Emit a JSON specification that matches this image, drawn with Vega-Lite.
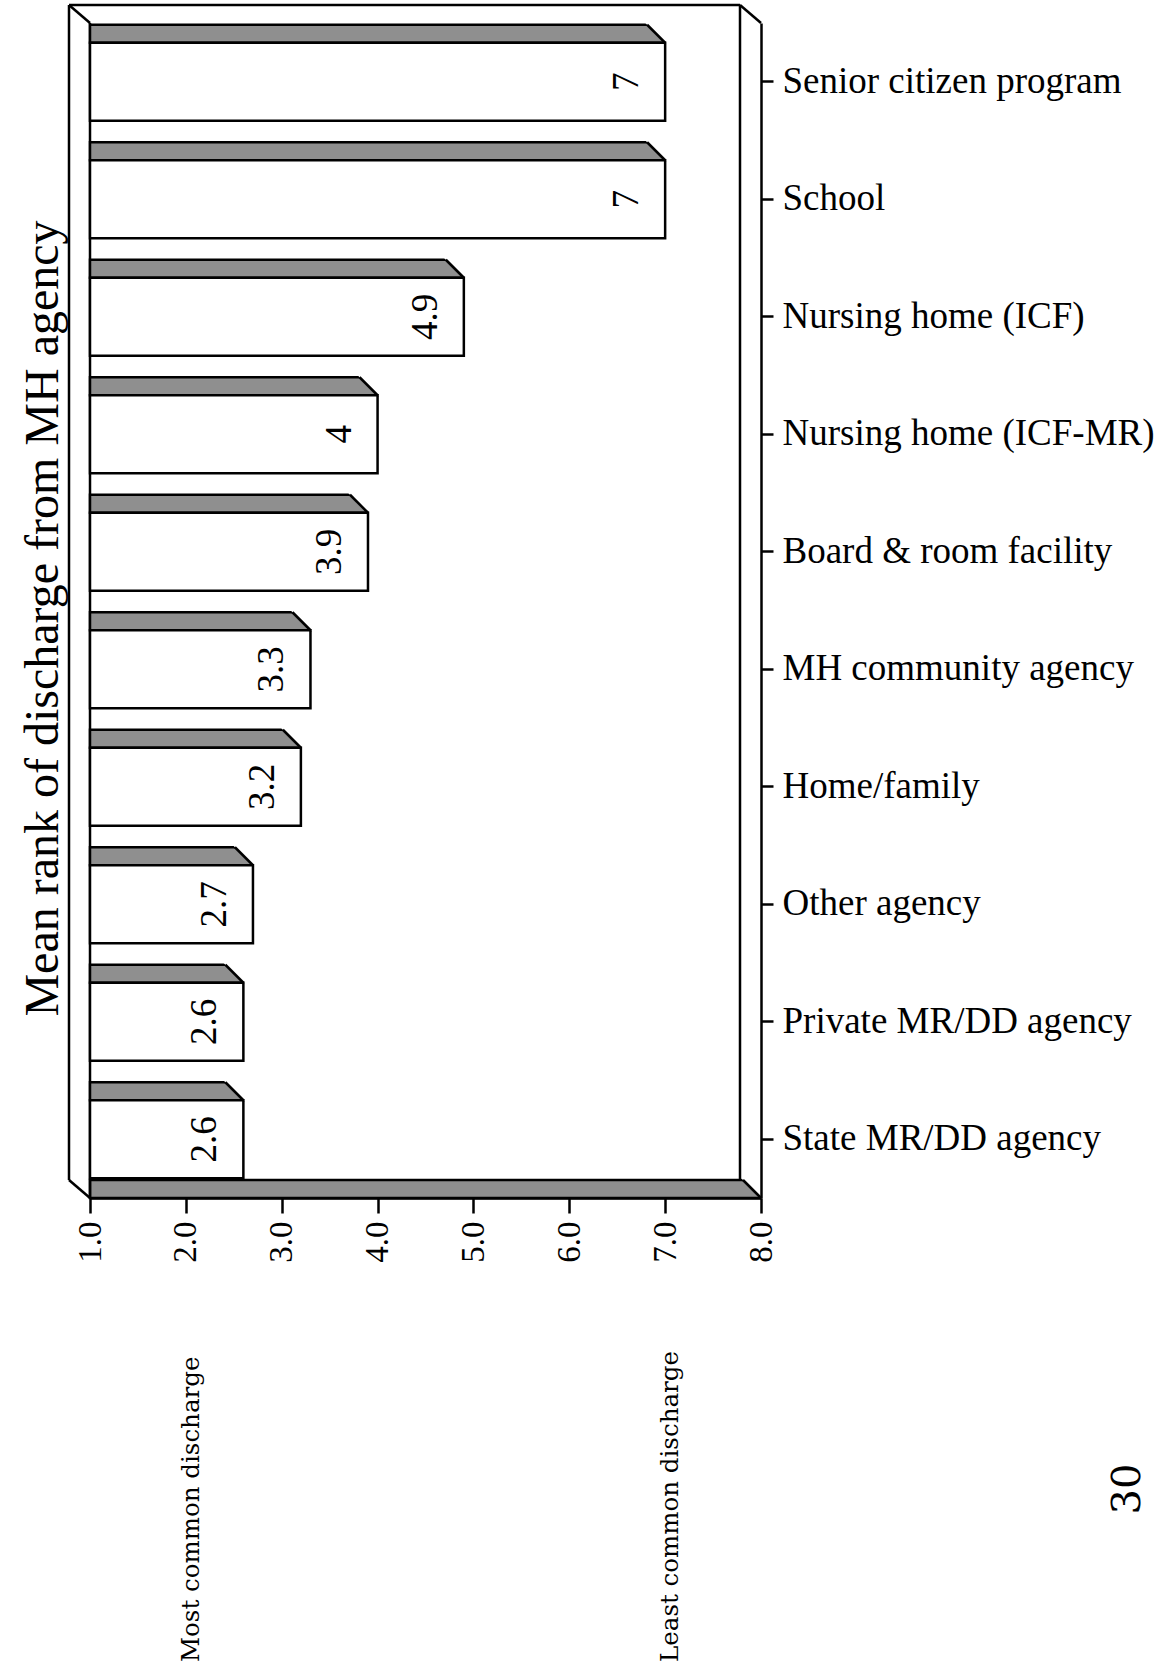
{
  "$schema": "https://vega.github.io/schema/vega-lite/v6.json",
  "background": "white",
  "padding": {"left": 19, "top": 3, "right": 5, "bottom": 5},
  "spacing": 3,
  "resolve": {"scale": {"x": "shared"}},
  "config": {
    "font": "Liberation Serif",
    "view": {"stroke": null},
    "title": {"color": "black", "fontWeight": "normal"}
  },
  "vconcat": [
    {
      "width": 671,
      "height": 1175,
      "title": {
        "text": "Mean rank of discharge from MH agency",
        "orient": "left",
        "anchor": "middle",
        "offset": 0,
        "dx": -8,
        "font": "Liberation Serif",
        "fontSize": 48,
        "fontWeight": "normal",
        "color": "black"
      },
      "data": {
        "values": [
          {"destination": "Senior citizen program", "rank": 7},
          {"destination": "School", "rank": 7},
          {"destination": "Nursing home (ICF)", "rank": 4.9},
          {"destination": "Nursing home (ICF-MR)", "rank": 4},
          {"destination": "Board & room facility", "rank": 3.9},
          {"destination": "MH community agency", "rank": 3.3},
          {"destination": "Home/family", "rank": 3.2},
          {"destination": "Other agency", "rank": 2.7},
          {"destination": "Private MR/DD agency", "rank": 2.6},
          {"destination": "State MR/DD agency", "rank": 2.6}
        ]
      },
      "layer": [
        {
          "description": "floor strip of the box",
          "data": {"values": [{}]},
          "mark": {"type": "bar", "height": 18, "yOffset": 49.75, "fill": "#8f8f8f", "stroke": "black", "strokeWidth": 2.5},
          "encoding": {
            "x": {"datum": 1, "type": "quantitative"},
            "x2": {"datum": 8},
            "y": {"datum": "State MR/DD agency", "type": "nominal"}
          }
        },
        {
          "data": {"values": [{}]},
          "mark": {"type": "point", "shape": "M-21,-21L3,-21L3,3Z", "size": 4, "filled": true, "fill": "white", "strokeWidth": 0, "opacity": 1, "yOffset": 58.75},
          "encoding": {
            "x": {"datum": 8, "type": "quantitative"},
            "y": {"datum": "State MR/DD agency", "type": "nominal"}
          }
        },
        {
          "data": {"values": [{}]},
          "mark": {"type": "point", "shape": "M0,0L-18,-18", "size": 4, "filled": false, "stroke": "black", "strokeWidth": 2.5, "opacity": 1, "yOffset": 58.75},
          "encoding": {
            "x": {"datum": 8, "type": "quantitative"},
            "y": {"datum": "State MR/DD agency", "type": "nominal"}
          }
        },
        {
          "description": "back wall: top edge",
          "data": {"values": [{}]},
          "mark": {"type": "rule", "color": "black", "strokeWidth": 2.5, "xOffset": -21, "x2Offset": -21, "yOffset": -76.75},
          "encoding": {
            "x": {"datum": 1, "type": "quantitative"},
            "x2": {"datum": 8},
            "y": {"datum": "Senior citizen program", "type": "nominal"}
          }
        },
        {
          "description": "back wall: left edge",
          "data": {"values": [{}]},
          "mark": {"type": "rule", "color": "black", "strokeWidth": 2.5, "xOffset": -21, "yOffset": -76.75, "y2Offset": 40.75},
          "encoding": {
            "x": {"datum": 1, "type": "quantitative"},
            "y": {"datum": "Senior citizen program", "type": "nominal"},
            "y2": {"datum": "State MR/DD agency"}
          }
        },
        {
          "description": "back wall: right edge",
          "data": {"values": [{}]},
          "mark": {"type": "rule", "color": "black", "strokeWidth": 2.5, "xOffset": -21, "yOffset": -76.75, "y2Offset": 40.75},
          "encoding": {
            "x": {"datum": 8, "type": "quantitative"},
            "y": {"datum": "Senior citizen program", "type": "nominal"},
            "y2": {"datum": "State MR/DD agency"}
          }
        },
        {
          "description": "corner edge, top left",
          "data": {"values": [{}]},
          "mark": {"type": "rule", "color": "black", "strokeWidth": 2.5, "xOffset": -21, "yOffset": -76.75, "y2Offset": -58.75},
          "encoding": {
            "x": {"datum": 1, "type": "quantitative"},
            "x2": {"datum": 1},
            "y": {"datum": "Senior citizen program", "type": "nominal"},
            "y2": {"datum": "Senior citizen program"}
          }
        },
        {
          "description": "corner edge, top right",
          "data": {"values": [{}]},
          "mark": {"type": "rule", "color": "black", "strokeWidth": 2.5, "xOffset": -21, "yOffset": -76.75, "y2Offset": -58.75},
          "encoding": {
            "x": {"datum": 8, "type": "quantitative"},
            "x2": {"datum": 8},
            "y": {"datum": "Senior citizen program", "type": "nominal"},
            "y2": {"datum": "Senior citizen program"}
          }
        },
        {
          "description": "corner edge, bottom left",
          "data": {"values": [{}]},
          "mark": {"type": "rule", "color": "black", "strokeWidth": 2.5, "xOffset": -21, "yOffset": 40.75, "y2Offset": 58.75},
          "encoding": {
            "x": {"datum": 1, "type": "quantitative"},
            "x2": {"datum": 1},
            "y": {"datum": "State MR/DD agency", "type": "nominal"},
            "y2": {"datum": "State MR/DD agency"}
          }
        },
        {
          "description": "front left edge",
          "data": {"values": [{}]},
          "mark": {"type": "rule", "color": "black", "strokeWidth": 2.5, "yOffset": -58.75, "y2Offset": 58.75},
          "encoding": {
            "x": {"datum": 1, "type": "quantitative"},
            "y": {"datum": "Senior citizen program", "type": "nominal"},
            "y2": {"datum": "State MR/DD agency"}
          }
        },
        {
          "description": "bar tops (depth face)",
          "mark": {"type": "bar", "height": 18, "yOffset": -48, "fill": "#8f8f8f", "stroke": "black", "strokeWidth": 2.5},
          "encoding": {
            "y": {"field": "destination", "type": "nominal", "sort": null},
            "x": {"field": "rank", "type": "quantitative", "scale": {"domain": [1, 8], "nice": false, "zero": false}},
            "x2": {"datum": 1}
          }
        },
        {
          "mark": {"type": "point", "shape": "M-21,-21L3,-21L3,3Z", "size": 4, "filled": true, "fill": "white", "strokeWidth": 0, "opacity": 1, "yOffset": -39},
          "encoding": {
            "y": {"field": "destination", "type": "nominal", "sort": null},
            "x": {"field": "rank", "type": "quantitative"}
          }
        },
        {
          "mark": {"type": "point", "shape": "M0,0L-18,-18", "size": 4, "filled": false, "stroke": "black", "strokeWidth": 2.5, "opacity": 1, "yOffset": -39},
          "encoding": {
            "y": {"field": "destination", "type": "nominal", "sort": null},
            "x": {"field": "rank", "type": "quantitative"}
          }
        },
        {
          "description": "bar fronts",
          "mark": {"type": "bar", "height": 78, "fill": "white", "stroke": "black", "strokeWidth": 2.5},
          "encoding": {
            "y": {
              "field": "destination",
              "type": "nominal",
              "sort": null,
              "scale": {
                "domain": [
                  "Senior citizen program", "School", "Nursing home (ICF)", "Nursing home (ICF-MR)",
                  "Board & room facility", "MH community agency", "Home/family", "Other agency",
                  "Private MR/DD agency", "State MR/DD agency"
                ],
                "paddingInner": 0,
                "paddingOuter": 0
              },
              "axis": {
                "orient": "right",
                "title": null,
                "zindex": 1,
                "domainColor": "black",
                "domainWidth": 2.5,
                "tickColor": "black",
                "tickWidth": 2.5,
                "tickSize": 12,
                "labelPadding": 9,
                "labelFont": "Liberation Serif",
                "labelFontSize": 37,
                "labelColor": "black",
                "labelLimit": 500
              }
            },
            "x": {
              "field": "rank",
              "type": "quantitative",
              "scale": {"domain": [1, 8], "nice": false, "zero": false},
              "axis": {
                "title": null,
                "values": [1, 2, 3, 4, 5, 6, 7, 8],
                "format": ".1f",
                "grid": false,
                "zindex": 1,
                "domainColor": "black",
                "domainWidth": 2.5,
                "tickColor": "black",
                "tickWidth": 2.5,
                "tickSize": 15,
                "labelAngle": -90,
                "labelPadding": 8,
                "labelFont": "Liberation Serif",
                "labelFontSize": 33,
                "labelColor": "black"
              }
            },
            "x2": {"datum": 1}
          }
        },
        {
          "description": "value labels",
          "mark": {"type": "text", "angle": 270, "align": "center", "baseline": "middle", "xOffset": -38, "font": "Liberation Serif", "fontSize": 37, "color": "black"},
          "encoding": {
            "y": {"field": "destination", "type": "nominal", "sort": null},
            "x": {"field": "rank", "type": "quantitative"},
            "text": {"field": "rank", "type": "quantitative"}
          }
        }
      ]
    },
    {
      "width": 671,
      "height": 396,
      "title": {
        "text": "30",
        "orient": "right",
        "angle": 270,
        "baseline": "top",
        "anchor": "middle",
        "offset": 307,
        "dx": -25,
        "font": "DejaVu Serif",
        "fontSize": 40,
        "fontWeight": "normal",
        "color": "black"
      },
      "data": {
        "values": [
          {"rank": 2, "note": "Most common discharge"},
          {"rank": 7, "note": "Least common discharge"}
        ]
      },
      "mark": {"type": "text", "angle": 270, "align": "left", "baseline": "middle", "xOffset": 6, "font": "DejaVu Serif", "fontSize": 24.5, "color": "black"},
      "encoding": {
        "x": {"field": "rank", "type": "quantitative", "axis": null, "scale": {"domain": [1, 8], "nice": false, "zero": false}},
        "y": {"datum": 0, "type": "quantitative", "scale": {"domain": [0, 1]}, "axis": null},
        "text": {"field": "note"}
      }
    }
  ]
}
